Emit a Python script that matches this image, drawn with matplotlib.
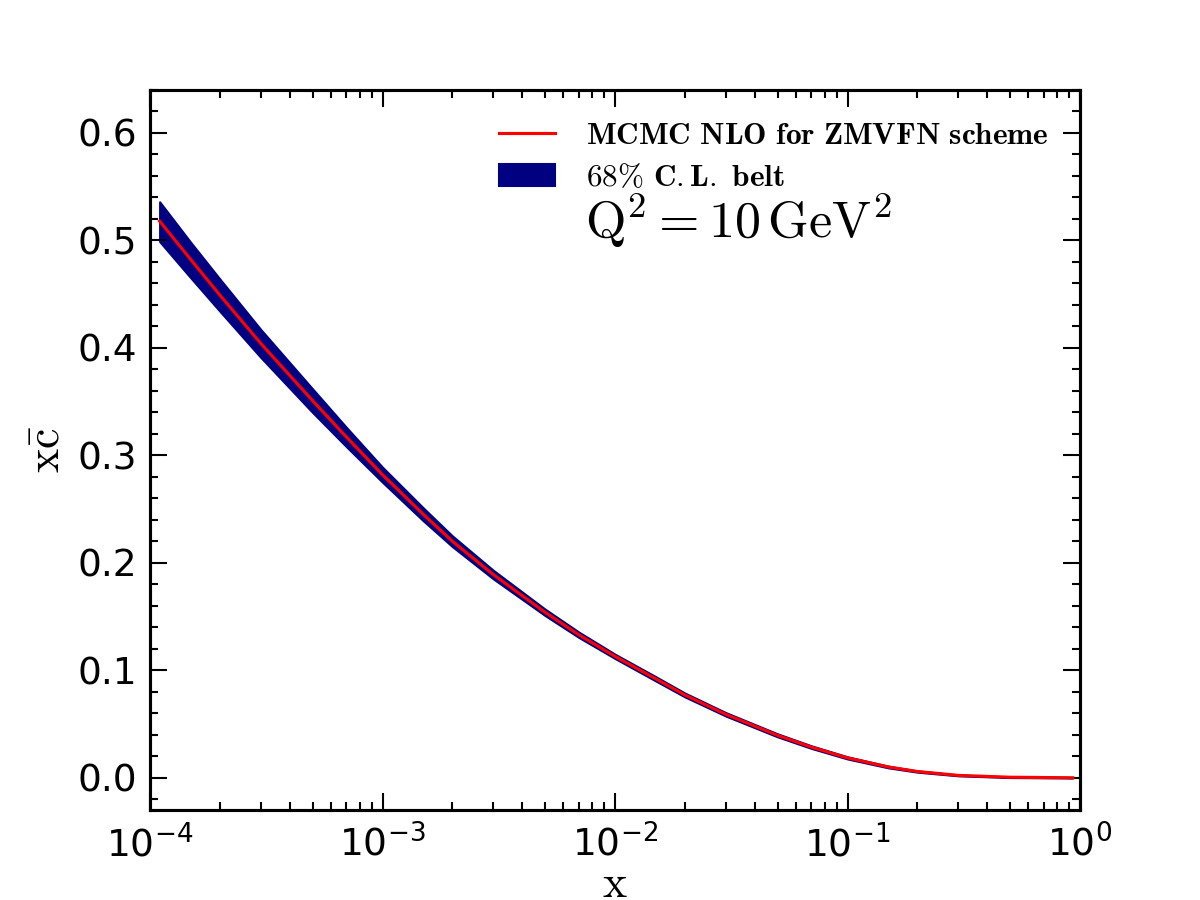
import numpy as np
import matplotlib
matplotlib.use("Agg")
import matplotlib.pyplot as plt
from matplotlib.ticker import MultipleLocator, LogLocator

plt.rcParams["mathtext.fontset"] = "cm"

# central value of x*cbar and the 68% band
x = [1.1e-4, 1.5e-4, 2e-4, 3e-4, 5e-4, 7e-4, 1e-3, 1.5e-3, 2e-3, 3e-3,
     5e-3, 7e-3, 1e-2, 1.5e-2, 2e-2, 3e-2, 5e-2, 7e-2, 1e-1, 1.5e-1,
     2e-1, 3e-1, 5e-1, 0.93]
xc = [0.518, 0.482, 0.449, 0.404, 0.351, 0.317, 0.282, 0.245, 0.220, 0.189,
      0.154, 0.133, 0.113, 0.092, 0.077, 0.059, 0.0395, 0.0285, 0.0185, 0.010,
      0.0058, 0.0022, 0.0005, 0.0]
band_up = [0.018, 0.016, 0.015, 0.013, 0.011, 0.009, 0.007, 0.006, 0.005, 0.004,
           0.003, 0.0025, 0.002, 0.002, 0.0018, 0.0016, 0.0014, 0.0012, 0.001, 0.0008,
           0.0006, 0.0004, 0.0003, 0.0002]
band_dn = [0.019, 0.017, 0.015, 0.013, 0.011, 0.009, 0.007, 0.006, 0.005, 0.004,
           0.003, 0.0025, 0.002, 0.002, 0.0018, 0.0016, 0.0014, 0.0012, 0.001, 0.0008,
           0.0006, 0.0004, 0.0003, 0.0002]

x = np.array(x)
xc = np.array(xc)
upper = xc + np.array(band_up)
lower = xc - np.array(band_dn)

fig = plt.figure(figsize=(8, 6), dpi=150)
ax = fig.add_axes([0.125, 0.1, 0.775, 0.8])

ax.fill_between(x, lower, upper, facecolor="navy", edgecolor="navy", lw=1.0,
                label=r"$68\%$ $\mathbf{C.L.\ belt}$")
ax.plot(x, xc, color="red", lw=1.5, label=r"$\mathbf{MCMC\ NLO\ for\ ZMVFN\ scheme}$")

ax.set_xscale("log")
ax.set_xlim(1e-4, 1)
ax.set_ylim(-0.03, 0.64)
ax.yaxis.set_major_locator(MultipleLocator(0.1))
ax.yaxis.set_minor_locator(MultipleLocator(0.02))
ax.xaxis.set_minor_locator(LogLocator(base=10, subs=np.arange(2, 10)))

ax.tick_params(which="both", direction="in", top=True, right=True, labelsize=18, width=1)
ax.tick_params(which="major", length=8)
ax.tick_params(which="minor", length=4)
ax.tick_params(axis="x", which="major", pad=7)
ax.tick_params(axis="y", which="major", pad=6)
for s in ax.spines.values():
    s.set_linewidth(1.5)

ax.set_xlabel(r"$\mathrm{x}$", fontsize=22, labelpad=-1)
ax.set_ylabel(r"$\mathrm{x\bar{c}}$", fontsize=22)

handles, labels = ax.get_legend_handles_labels()
ax.legend(handles[::-1], labels[::-1], loc="upper right", frameon=False, fontsize=15,
          handlelength=1.8, handletextpad=1.0, labelspacing=0.4, borderaxespad=0.6)
ax.text(0.468, 0.818, r"$\mathrm{Q^2 = 10\,GeV^2}$", transform=ax.transAxes,
        fontsize=25, va="center")

fig.savefig("out.png", dpi=150, facecolor="white")
